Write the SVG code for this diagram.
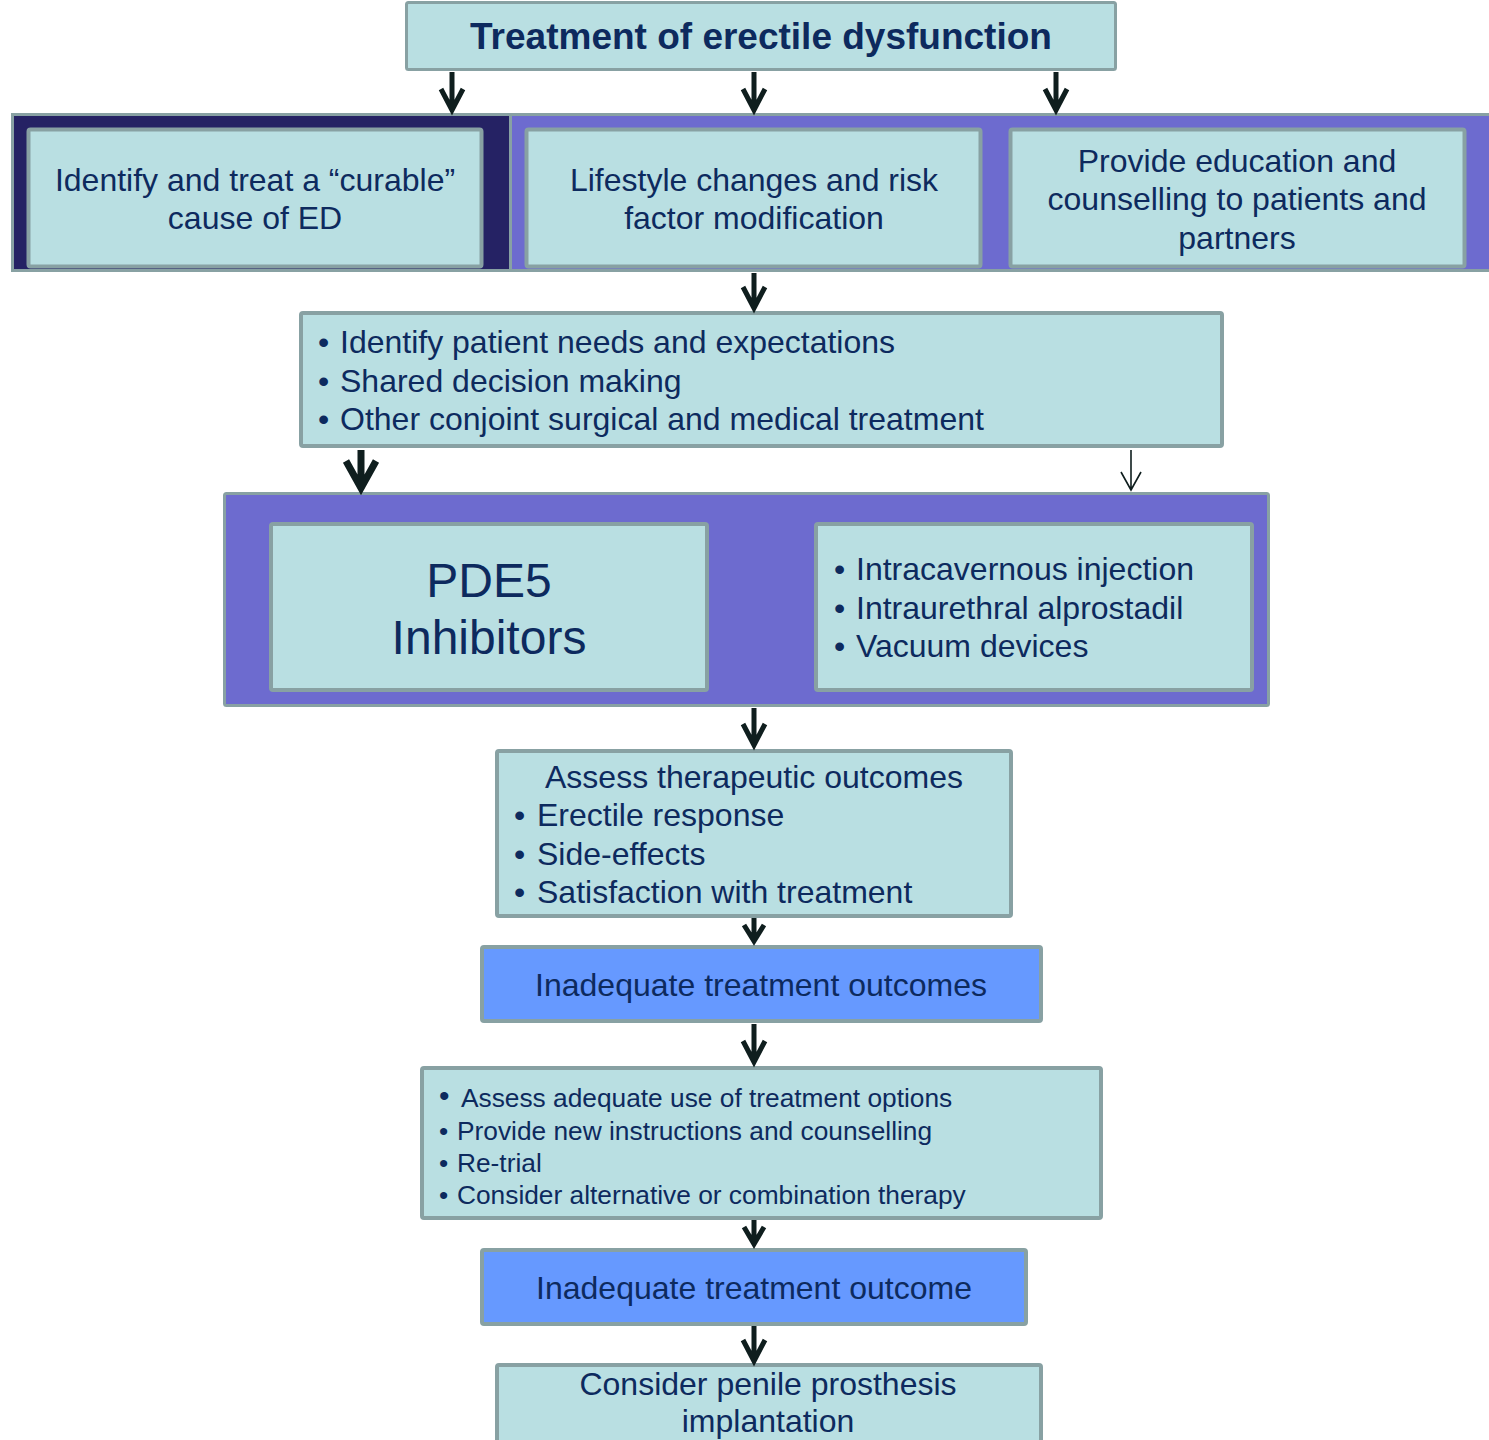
<svg xmlns="http://www.w3.org/2000/svg" width="1489" height="1440" viewBox="0 0 1489 1440">
  <style>
    .box { fill: #b9dfe2; stroke: #88a1a3; stroke-width: 4; }
    .band { fill: #6d6bcf; stroke: #88a1a3; stroke-width: 3; }
    .alert { fill: #6699ff; stroke: #88a1a3; stroke-width: 4; }
    .t { font-family: "Liberation Sans", Arial, sans-serif; font-size: 32px; fill: #0d2a5e; }
    .c { text-anchor: middle; }
    .sm { font-size: 26.3px; }
    .arrow { fill: none; stroke: #0f1e1e; stroke-width: 5; stroke-linejoin: miter; }
    .arrow-bold { fill: none; stroke: #0f1e1e; stroke-width: 7; }
    .arrow-thin { fill: none; stroke: #0f1e1e; stroke-width: 1.6; }
  </style>

  <!-- title -->
  <g id="title">
    <rect class="box" x="406.5" y="2.5" width="709" height="67" rx="2" style="stroke-width:3"/>
    <text class="t c" x="761" y="49" style="font-size:37px;font-weight:bold">Treatment of erectile dysfunction</text>
  </g>

  <!-- first-line measures band -->
  <g id="band-first-line">
    <rect class="band" x="12.5" y="114.5" width="1480" height="156"/>
    <rect x="14" y="116" width="495" height="153" fill="#252264"/>
    <line x1="510.5" y1="116" x2="510.5" y2="269" stroke="#88a1a3" stroke-width="3"/>
  </g>

  <g id="curable-cause">
    <rect class="box" x="28.5" y="129.5" width="453" height="137" rx="2"/>
    <text class="t c" x="255" y="191">Identify and treat a “curable”</text>
    <text class="t c" x="255" y="229">cause of ED</text>
  </g>

  <g id="lifestyle">
    <rect class="box" x="526.5" y="129.5" width="454" height="137" rx="2"/>
    <text class="t c" x="754" y="191">Lifestyle changes and risk</text>
    <text class="t c" x="754" y="229">factor modification</text>
  </g>

  <g id="education">
    <rect class="box" x="1010.5" y="129.5" width="454" height="137" rx="2"/>
    <text class="t c" x="1237" y="172">Provide education and</text>
    <text class="t c" x="1237" y="210">counselling to patients and</text>
    <text class="t c" x="1237" y="249">partners</text>
  </g>

  <g id="patient-needs">
    <rect class="box" x="301" y="313" width="921" height="133" rx="2"/>
    <text class="t" x="318" y="353">•</text>
    <text class="t" x="340" y="353">Identify patient needs and expectations</text>
    <text class="t" x="318" y="392">•</text>
    <text class="t" x="340" y="392">Shared decision making</text>
    <text class="t" x="318" y="430">•</text>
    <text class="t" x="340" y="430">Other conjoint surgical and medical treatment</text>
  </g>

  <!-- treatment options band -->
  <g id="band-options">
    <rect class="band" x="224.5" y="493.5" width="1044" height="212" rx="2"/>
  </g>

  <g id="pde5">
    <rect class="box" x="271" y="524" width="436" height="166" rx="2"/>
    <text class="t c" x="489" y="597" style="font-size:48px">PDE5</text>
    <text class="t c" x="489" y="654" style="font-size:48px">Inhibitors</text>
  </g>

  <g id="other-options">
    <rect class="box" x="816" y="524" width="436" height="166" rx="2"/>
    <text class="t" x="834" y="580">•</text>
    <text class="t" x="856" y="580">Intracavernous injection</text>
    <text class="t" x="834" y="619">•</text>
    <text class="t" x="856" y="619">Intraurethral alprostadil</text>
    <text class="t" x="834" y="657">•</text>
    <text class="t" x="856" y="657">Vacuum devices</text>
  </g>

  <g id="assess-outcomes">
    <rect class="box" x="497" y="751" width="514" height="165" rx="2"/>
    <text class="t c" x="754" y="788">Assess therapeutic outcomes</text>
    <text class="t" x="514" y="826">•</text>
    <text class="t" x="537" y="826">Erectile response</text>
    <text class="t" x="514" y="865">•</text>
    <text class="t" x="537" y="865">Side-effects</text>
    <text class="t" x="514" y="903">•</text>
    <text class="t" x="537" y="903">Satisfaction with treatment</text>
  </g>

  <g id="inadequate-1">
    <rect class="alert" x="482" y="947" width="559" height="74" rx="2"/>
    <text class="t c" x="761" y="996">Inadequate treatment outcomes</text>
  </g>

  <g id="reassess">
    <rect class="box" x="422" y="1068" width="679" height="150" rx="2"/>
    <text class="t sm" x="439" y="1106" style="font-size:30px">•</text>
    <text class="t sm" x="461" y="1107">Assess adequate use of treatment options</text>
    <text class="t sm" x="439" y="1140">•</text>
    <text class="t sm" x="457" y="1140">Provide new instructions and counselling</text>
    <text class="t sm" x="439" y="1172">•</text>
    <text class="t sm" x="457" y="1172">Re-trial</text>
    <text class="t sm" x="439" y="1204">•</text>
    <text class="t sm" x="457" y="1204">Consider alternative or combination therapy</text>
  </g>

  <g id="inadequate-2">
    <rect class="alert" x="482" y="1250" width="544" height="74" rx="2"/>
    <text class="t c" x="754" y="1299">Inadequate treatment outcome</text>
  </g>

  <g id="prosthesis">
    <rect class="box" x="497" y="1365" width="544" height="90" rx="2"/>
    <text class="t c" x="768" y="1395">Consider penile prosthesis</text>
    <text class="t c" x="768" y="1432">implantation</text>
  </g>

  <!-- connectors -->
  <g id="connectors">
    <path class="arrow" d="M452 72 V110 M441 89 L452 110 L463 89"/>
    <path class="arrow" d="M754 72 V110 M743 89 L754 110 L765 89"/>
    <path class="arrow" d="M1056 72 V110 M1045 89 L1056 110 L1067 89"/>
    <path class="arrow" d="M754 273 V308 M743 287 L754 308 L765 287"/>
    <path class="arrow-bold" d="M361 450 V488 M346 461 L361 488 L376 461"/>
    <path class="arrow-thin" d="M1131 450 V490 M1121 472 L1131 490 L1141 472"/>
    <path class="arrow" d="M754 708 V745 M743 724 L754 745 L765 724"/>
    <path class="arrow" d="M754 918 V941 M744 925 L754 941 L764 925"/>
    <path class="arrow" d="M754 1024 V1062 M743 1041 L754 1062 L765 1041"/>
    <path class="arrow" d="M754 1220 V1244 M744 1227 L754 1244 L764 1227"/>
    <path class="arrow" d="M754 1326 V1361 M743 1340 L754 1361 L765 1340"/>
  </g>
</svg>
